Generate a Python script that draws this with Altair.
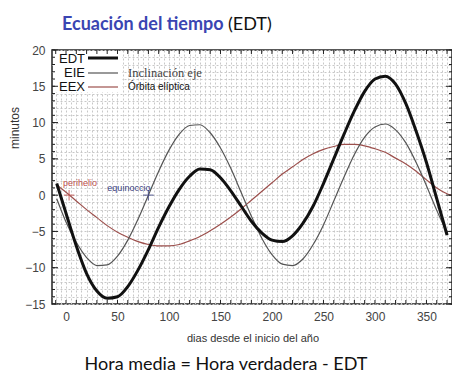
import altair as alt
import pandas as pd

# ---- data ----
DAYS = [-9, 0, 10, 20, 30, 40, 50, 60, 70, 80, 90, 100, 110, 120, 130, 140, 150,
        160, 170, 180, 190, 200, 210, 220, 230, 240, 250, 260, 270, 280, 290, 300,
        310, 320, 330, 340, 350, 360, 370]
EDT = [1.6, -2.5, -7.0, -10.8, -13.2, -14.2, -14.0, -12.6, -10.3, -7.5, -4.4, -1.6,
       0.8, 2.6, 3.6, 3.5, 2.4, 0.6, -1.5, -3.6, -5.2, -6.2, -6.4, -5.6, -3.9, -1.5,
       1.6, 5.0, 8.4, 11.6, 14.3, 16.0, 16.4, 15.3, 12.6, 8.8, 4.5, -0.5, -5.5]
EIE = [-0.5, -3.7, -6.5, -8.6, -9.7, -9.6, -8.4, -6.2, -3.3, 0.0, 3.3, 6.2, 8.4, 9.6,
       9.7, 8.6, 6.5, 3.7, 0.4, -2.9, -5.9, -8.2, -9.5, -9.7, -8.8, -6.8, -4.1, -0.8,
       2.5, 5.6, 8.0, 9.4, 9.8, 9.0, 7.2, 4.5, 1.3, -2.1, -5.2]
EEX_DAYS = DAYS + [374]
EEX = [1.4, 0.4, -0.8, -2.0, -3.1, -4.2, -5.1, -5.8, -6.4, -6.8, -7.0, -7.0, -6.8,
       -6.3, -5.7, -4.9, -4.0, -3.0, -1.9, -0.7, 0.5, 1.7, 2.9, 3.9, 4.9, 5.7, 6.3,
       6.7, 7.0, 7.0, 6.8, 6.4, 5.9, 5.1, 4.3, 3.3, 2.1, 1.0, 0.2, 0.0]

EVENT_DAYS = [3, 80]
EVENT_VALS = [0, 0]
EVENT_NAMES = ["perihelio", "equinoccio"]

X_GRID = list(range(-10, 376, 5))
Y_GRID = list(range(-15, 21, 1))
X_TICKS = list(range(-10, 371, 10))
Y_MAJOR = list(range(-15, 21, 5))

W, H = 400, 254
XDOM = [-13.6, 374.8]
YDOM = [-15, 20]

xs = alt.Scale(domain=XDOM, nice=False, zero=False)
ys = alt.Scale(domain=YDOM, nice=False, zero=False)

common_axis = dict(grid=True, gridDash=[2, 2], gridColor="#c8c8c8", gridWidth=1,
                   ticks=False, tickSize=0, domain=False, labelPadding=7,
                   labelFontSize=12, labelColor="#444", labelFont="Liberation Sans",
                   labelOverlap=False, labelBound=False, labelFlush=False, title=None)
xaxis = alt.Axis(values=X_GRID, tickCount=len(X_GRID) + 5,
                 labelExpr="datum.value % 50 == 0 ? datum.label : ''", **common_axis)
yaxis = alt.Axis(values=Y_GRID, tickCount=len(Y_GRID) + 5,
                 labelExpr="datum.value % 5 == 0 ? datum.label : ''", **common_axis)

df_edt = pd.DataFrame({"d": DAYS, "v": EDT})
df_eie = pd.DataFrame({"d": DAYS, "v": EIE})
df_eex = pd.DataFrame({"d": EEX_DAYS, "v": EEX})

grid = alt.Chart(pd.DataFrame({"d": [0], "v": [0]})).mark_point(opacity=0).encode(
    x=alt.X("d:Q", scale=xs, axis=xaxis), y=alt.Y("v:Q", scale=ys, axis=yaxis))

legend_box = alt.Chart(pd.DataFrame({"a": [0]})).mark_rect(fill="white").encode(
    x=alt.value(1), x2=alt.value(70), y=alt.value(1), y2=alt.value(42))


def line(df, color, width):
    return alt.Chart(df).mark_line(color=color, strokeWidth=width, clip=True,
                                   interpolate="monotone").encode(
        x=alt.X("d:Q", scale=xs), y=alt.Y("v:Q", scale=ys), order="d:Q")


l_eie = line(df_eie, "#555555", 1.2)
l_eex = line(df_eex, "#9c4f4c", 1.2)
l_edt = line(df_edt, "#111111", 3)

tick_df = pd.DataFrame({"d": X_TICKS})
tb = alt.Chart(tick_df).mark_rule(color="#222", strokeWidth=1).encode(
    x=alt.X("d:Q", scale=xs), y=alt.value(H), y2=alt.value(H - 4))
tt = alt.Chart(tick_df).mark_rule(color="#222", strokeWidth=1).encode(
    x=alt.X("d:Q", scale=xs), y=alt.value(0), y2=alt.value(4))
ymin_df = pd.DataFrame({"v": Y_GRID})
ymaj_df = pd.DataFrame({"v": Y_MAJOR})
tl = alt.Chart(ymin_df).mark_rule(color="#222", strokeWidth=1).encode(
    y=alt.Y("v:Q", scale=ys), x=alt.value(0), x2=alt.value(3))
tr = alt.Chart(ymin_df).mark_rule(color="#222", strokeWidth=1).encode(
    y=alt.Y("v:Q", scale=ys), x=alt.value(W), x2=alt.value(W - 3))
tlm = alt.Chart(ymaj_df).mark_rule(color="#222", strokeWidth=1).encode(
    y=alt.Y("v:Q", scale=ys), x=alt.value(0), x2=alt.value(6))
trm = alt.Chart(ymaj_df).mark_rule(color="#222", strokeWidth=1).encode(
    y=alt.Y("v:Q", scale=ys), x=alt.value(W), x2=alt.value(W - 6))

ev = pd.DataFrame({"d": EVENT_DAYS, "v": EVENT_VALS, "n": EVENT_NAMES})
ev_col = alt.Color("n:N", scale=alt.Scale(domain=EVENT_NAMES, range=["#c0504d", "#3b4180"]),
                   legend=None)
markers = alt.Chart(ev).mark_point(shape="M-1,0L1,0M0,-1L0,1", size=110, filled=False,
                                   strokeWidth=1.2).encode(
    x=alt.X("d:Q", scale=xs), y=alt.Y("v:Q", scale=ys), color=ev_col)
peri_lab = alt.Chart(ev).transform_filter(alt.datum.n == "perihelio").mark_text(
    fontSize=9, font="Liberation Sans", align="left", baseline="bottom", dx=-6, dy=-7
).encode(x=alt.X("d:Q", scale=xs), y=alt.Y("v:Q", scale=ys), text="n:N", color=ev_col)
equi_lab = alt.Chart(ev).transform_filter(alt.datum.n == "equinoccio").mark_text(
    fontSize=9, font="Liberation Sans", align="right", baseline="bottom", dx=2, dy=-2
).encode(x=alt.X("d:Q", scale=xs), y=alt.Y("v:Q", scale=ys), text="n:N", color=ev_col)


def txt(s, x, y, size=12, color="#000", font="Liberation Sans", weight="normal",
        align="left", baseline="middle", angle=0):
    return alt.Chart(pd.DataFrame({"t": [s]})).mark_text(
        fontSize=size, color=color, font=font, fontWeight=weight, align=align,
        baseline=baseline, angle=angle).encode(
        x=alt.value(x), y=alt.value(y), text="t:N")


def seg(x1, x2, y, color, width):
    return alt.Chart(pd.DataFrame({"a": [0]})).mark_rule(color=color, strokeWidth=width).encode(
        x=alt.value(x1), x2=alt.value(x2), y=alt.value(y))


legend = [
    txt("EDT", 33, 9, 13, "#111", align="right"),
    txt("EIE", 33, 23, 13, "#111", align="right"),
    txt("EEX", 33, 37, 13, "#111", align="right"),
    seg(36, 66, 8, "#111", 3),
    seg(36, 66, 23, "#555", 1.2),
    seg(36, 66, 37, "#9c4f4c", 1.2),
    txt("Inclinación eje", 76, 23, 12.5, "#444", font="Liberation Serif"),
    txt("Órbita elíptica", 76, 37, 10, "#111"),
]

texts = [
    txt("Ecuación del tiempo", 10, -20, 18, "#3a45b2", font="Lato", weight="bold",
        baseline="alphabetic"),
    txt("(EDT)", 176, -20, 18, "#111", font="Lato", baseline="alphabetic"),
    txt("dias desde el inicio del año", 201, 289, 11, "#333", align="center"),
    txt("minutos", -37, 78, 12, "#333", align="center", angle=270),
    txt("Hora media = Hora verdadera - EDT", 174, 320, 18, "#111", font="Lato",
        align="center", baseline="alphabetic"),
]

chart = alt.layer(grid, legend_box, l_eex, l_eie, l_edt, tb, tt, tl, tr, tlm, trm,
                  markers, peri_lab, equi_lab, *legend, *texts).properties(
    width=W, height=H,
    autosize=alt.AutoSizeParams(type="none"),
    padding={"left": 44, "top": 42, "right": 0, "bottom": 74},
).configure_view(stroke="#222", strokeWidth=1.5)

chart.save("out.html", embed_options={"renderer": "svg", "actions": False})
